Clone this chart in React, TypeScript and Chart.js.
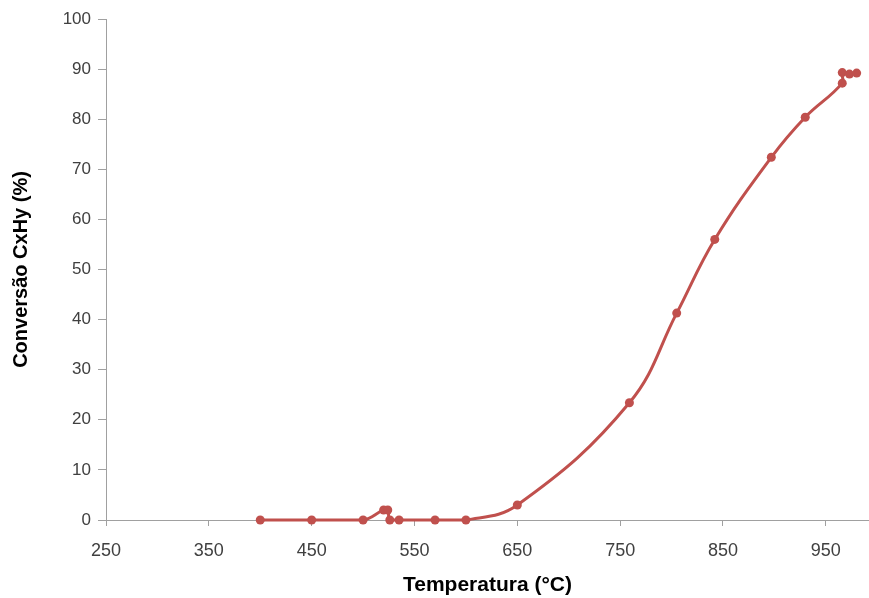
import React, { useEffect, useRef } from "react";
import { Chart, registerables } from "chart.js";

Chart.register(...registerables);

const temperatures = [400, 450, 500, 520, 524, 526, 535, 570, 600, 650, 759, 805, 842, 897, 930, 966, 966, 973, 980];
const conversions = [0, 0, 0, 2, 2, 0, 0, 0, 0, 3, 23.4, 41.3, 56, 72.4, 80.4, 87.2, 89.3, 89, 89.2];
const xTickValues = [250, 350, 450, 550, 650, 750, 850, 950];
const yTickValues = [0, 10, 20, 30, 40, 50, 60, 70, 80, 90, 100];

const FONT = "Liberation Sans, Arial, sans-serif";

export default function App() {
  const ref = useRef<HTMLCanvasElement | null>(null);

  useEffect(() => {
    document.body.style.margin = "0";
    const canvas = ref.current;
    if (!canvas) return;
    const data = temperatures.map((t, i) => ({ x: t, y: conversions[i] }));
    const chart = new Chart(canvas, {
      type: "scatter",
      data: {
        datasets: [
          {
            data,
            showLine: true,
            borderColor: "#c0504d",
            backgroundColor: "#c0504d",
            borderWidth: 3,
            pointRadius: 4.5,
            pointHoverRadius: 4.5,
            pointBorderWidth: 0,
            tension: 0.4,
            clip: false as any,
          },
        ],
      },
      options: {
        animation: false,
        responsive: false,
        maintainAspectRatio: false,
        layout: { autoPadding: false, padding: { top: 19, right: 0, left: 0, bottom: 0 } },
        plugins: { legend: { display: false }, tooltip: { enabled: false } },
        scales: {
          x: {
            type: "linear",
            min: 250,
            max: 992,
            afterBuildTicks: (scale: any) => {
              scale.ticks = xTickValues.map((v) => ({ value: v }));
            },
            afterFit: (scale: any) => {
              scale.height = 78;
            },
            grid: {
              drawOnChartArea: false,
              drawTicks: true,
              tickLength: 6,
              color: "#a0a0a0",
            },
            border: { display: true, color: "#a0a0a0", width: 1 },
            ticks: {
              color: "#404040",
              font: { family: FONT, size: 18 },
              padding: 14,
              maxRotation: 0,
            },
            title: {
              display: true,
              text: "Temperatura (°C)",
              color: "#000",
              font: { family: FONT, size: 21, weight: "bold" },
              padding: { top: 0, bottom: 0 },
            },
          },
          y: {
            type: "linear",
            min: 0,
            max: 100,
            afterBuildTicks: (scale: any) => {
              scale.ticks = yTickValues.map((v) => ({ value: v }));
            },
            afterFit: (scale: any) => {
              scale.width = 106;
            },
            grid: {
              drawOnChartArea: false,
              drawTicks: true,
              tickLength: 8,
              color: "#a0a0a0",
            },
            border: { display: true, color: "#a0a0a0", width: 1 },
            ticks: {
              color: "#404040",
              font: { family: FONT, size: 17 },
              padding: 7,
            },
            title: {
              display: true,
              text: "Conversão CxHy (%)",
              color: "#000",
              font: { family: FONT, size: 20, weight: "bold" },
              padding: { top: 9, bottom: 0 },
            },
          },
        },
      },
    });
    return () => chart.destroy();
  }, []);

  return (
    <div style={{ width: 869, height: 598, background: "#fff" }}>
      <canvas ref={ref} width={869} height={598} style={{ display: "block" }} />
    </div>
  );
}
